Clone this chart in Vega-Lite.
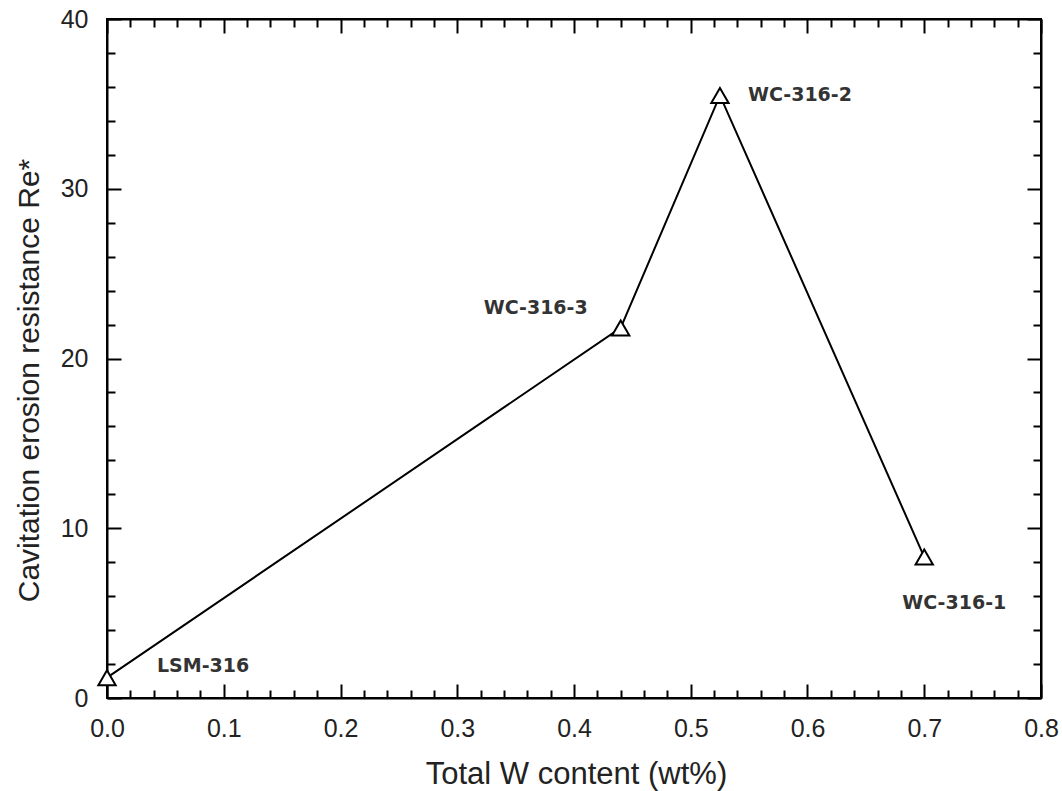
{
  "$schema": "https://vega.github.io/schema/vega-lite/v6.json",
  "width": 934,
  "height": 679,
  "autosize": "none",
  "padding": {"left": 107, "top": 19, "right": 21, "bottom": 93},
  "background": "white",
  "config": {
    "view": {"stroke": "black", "strokeWidth": 2},
    "font": "Liberation Sans"
  },
  "data": {
    "values": [
      {"w": 0.0, "re": 1.2, "name": "LSM-316"},
      {"w": 0.44, "re": 21.8, "name": "WC-316-3"},
      {"w": 0.525, "re": 35.5, "name": "WC-316-2"},
      {"w": 0.70, "re": 8.3, "name": "WC-316-1"}
    ]
  },
  "resolve": {"axis": {"x": "independent", "y": "independent"}},
  "layer": [
    {
      "mark": {"type": "line", "color": "black", "strokeWidth": 2},
      "encoding": {
        "x": {
          "field": "w", "type": "quantitative",
          "scale": {"domain": [0, 0.8], "nice": false, "zero": false},
          "axis": {
            "orient": "bottom",
            "title": "Total W content (wt%)",
            "titleFont": "Liberation Sans", "titleFontSize": 31, "titleFontWeight": "normal", "titleColor": "#222",
            "titleBaseline": "alphabetic", "titleAlign": "center", "titleX": 469, "titleY": 85,
            "values": [0,0.02,0.04,0.06,0.08,0.1,0.12,0.14,0.16,0.18,0.2,0.22,0.24,0.26,0.28,0.3,0.32,0.34,0.36,0.38,0.4,0.42,0.44,0.46,0.48,0.5,0.52,0.54,0.56,0.58,0.6,0.62,0.64,0.66,0.68,0.7,0.72,0.74,0.76,0.78,0.8],
            "labelExpr": "abs(datum.value*10-round(datum.value*10))<0.001 ? format(datum.value,'.1f') : ''",
            "labelFontSize": 25, "labelColor": "#222", "labelFont": "Liberation Sans", "labelPadding": 32, "labelFlush": false, "labelOverlap": false,
            "tickSize": {"condition": {"test": "abs(datum.value*10-round(datum.value*10))<0.001", "value": -14}, "value": -8},
            "tickColor": "black", "tickWidth": 2,
            "domainColor": "black", "domainWidth": 2, "grid": false
          }
        },
        "y": {
          "field": "re", "type": "quantitative",
          "scale": {"domain": [0, 40], "nice": false},
          "axis": {
            "orient": "left",
            "title": "Cavitation erosion resistance Re*",
            "titleFont": "Liberation Sans", "titleFontSize": 30, "titleFontWeight": "normal", "titleColor": "#222",
            "titleBaseline": "alphabetic", "titleAlign": "center", "titleAngle": -90, "titleX": -69, "titleY": 361,
            "values": [0,2,4,6,8,10,12,14,16,18,20,22,24,26,28,30,32,34,36,38,40],
            "labelExpr": "datum.value % 10 == 0 ? format(datum.value,'d') : ''",
            "labelFontSize": 25, "labelColor": "#222", "labelFont": "Liberation Sans", "labelPadding": 33, "labelFlush": false, "labelOverlap": false,
            "tickSize": {"condition": {"test": "datum.value % 10 == 0", "value": -14}, "value": -8},
            "tickColor": "black", "tickWidth": 2,
            "domainColor": "black", "domainWidth": 2, "grid": false
          }
        }
      }
    },
    {
      "mark": {"type": "point", "shape": "triangle-up", "filled": true, "fill": "white", "stroke": "black", "strokeWidth": 2, "size": 300, "opacity": 1},
      "encoding": {
        "x": {
          "field": "w", "type": "quantitative",
          "axis": {
            "orient": "top", "title": null, "labels": false,
            "values": [0,0.02,0.04,0.06,0.08,0.1,0.12,0.14,0.16,0.18,0.2,0.22,0.24,0.26,0.28,0.3,0.32,0.34,0.36,0.38,0.4,0.42,0.44,0.46,0.48,0.5,0.52,0.54,0.56,0.58,0.6,0.62,0.64,0.66,0.68,0.7,0.72,0.74,0.76,0.78,0.8],
            "tickSize": {"condition": {"test": "abs(datum.value*10-round(datum.value*10))<0.001", "value": -14}, "value": -8},
            "tickColor": "black", "tickWidth": 2,
            "domainColor": "black", "domainWidth": 2, "grid": false
          }
        },
        "y": {
          "field": "re", "type": "quantitative",
          "axis": {
            "orient": "right", "title": null, "labels": false,
            "values": [0,2,4,6,8,10,12,14,16,18,20,22,24,26,28,30,32,34,36,38,40],
            "tickSize": {"condition": {"test": "datum.value % 10 == 0", "value": -14}, "value": -8},
            "tickColor": "black", "tickWidth": 2,
            "domainColor": "black", "domainWidth": 2, "grid": false
          }
        }
      }
    },
    {
      "transform": [{"filter": "datum.name == 'LSM-316'"}],
      "mark": {"type": "text", "align": "left", "baseline": "middle", "dx": 50, "dy": -12, "fontSize": 19, "font": "DejaVu Sans", "fontWeight": "bold", "color": "#333"},
      "encoding": {
        "x": {"field": "w", "type": "quantitative", "axis": null},
        "y": {"field": "re", "type": "quantitative", "axis": null},
        "text": {"field": "name"}
      }
    },
    {
      "transform": [{"filter": "datum.name == 'WC-316-3'"}],
      "mark": {"type": "text", "align": "right", "baseline": "middle", "dx": -33, "dy": -20, "fontSize": 19, "font": "DejaVu Sans", "fontWeight": "bold", "color": "#333"},
      "encoding": {
        "x": {"field": "w", "type": "quantitative", "axis": null},
        "y": {"field": "re", "type": "quantitative", "axis": null},
        "text": {"field": "name"}
      }
    },
    {
      "transform": [{"filter": "datum.name == 'WC-316-2'"}],
      "mark": {"type": "text", "align": "left", "baseline": "middle", "dx": 28, "dy": 0, "fontSize": 19, "font": "DejaVu Sans", "fontWeight": "bold", "color": "#333"},
      "encoding": {
        "x": {"field": "w", "type": "quantitative", "axis": null},
        "y": {"field": "re", "type": "quantitative", "axis": null},
        "text": {"field": "name"}
      }
    },
    {
      "transform": [{"filter": "datum.name == 'WC-316-1'"}],
      "mark": {"type": "text", "align": "center", "baseline": "middle", "dx": 30, "dy": 46, "fontSize": 19, "font": "DejaVu Sans", "fontWeight": "bold", "color": "#333"},
      "encoding": {
        "x": {"field": "w", "type": "quantitative", "axis": null},
        "y": {"field": "re", "type": "quantitative", "axis": null},
        "text": {"field": "name"}
      }
    }
  ]
}
